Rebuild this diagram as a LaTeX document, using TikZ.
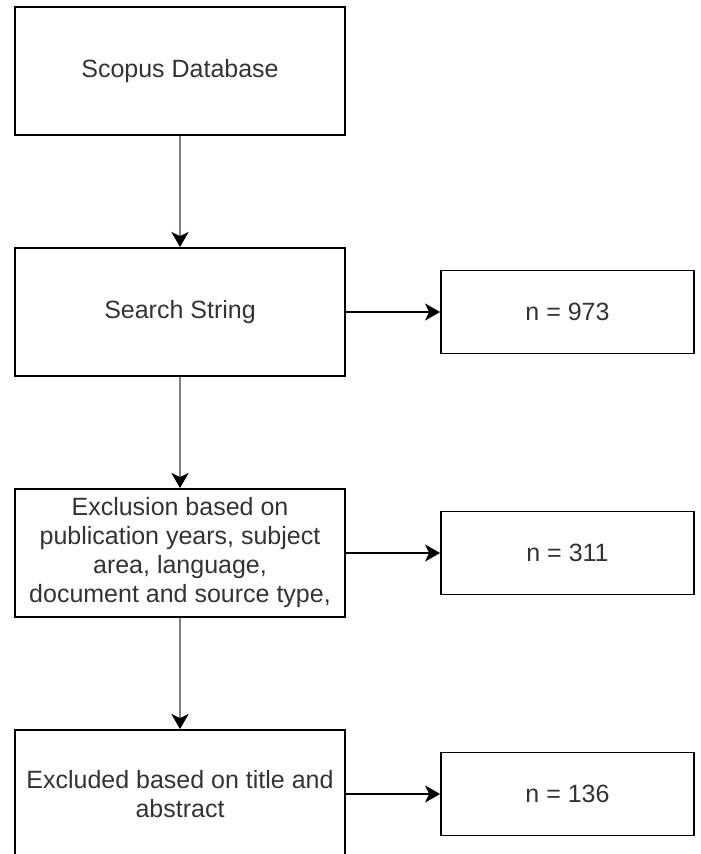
\documentclass[tikz,border=0pt]{standalone}
\usepackage{fontspec}
\setmainfont{Liberation Sans}
\usetikzlibrary{positioning,arrows.meta}
\begin{document}
\begin{tikzpicture}[x=1pt,y=1pt,line width=1.8pt,
    stagebox/.style={draw,rectangle,minimum width=330pt,minimum height=128pt,align=center,text=black!80,font=\fontsize{25}{29}\selectfont},
    countbox/.style={draw,rectangle,minimum width=253pt,minimum height=83pt,text=black!80,font=\fontsize{25}{29}\selectfont},
    flow/.style={draw=black!50,line width=2.6pt,-{Stealth[black,length=15pt,width=17pt,inset=4pt]}},
    side/.style={draw=black,-{Stealth[black,length=15pt,width=17pt,inset=4pt]}}]
        \useasboundingbox (0,0) rectangle (701,-854);
        \node[stagebox] (scopus) at (180,-71) {Scopus Database};
        \node[stagebox,below of=scopus,node distance=241pt] (search) {Search String};
        \node[stagebox,below of=search,node distance=241pt] (years) {Exclusion based on\\publication years, subject\\area, language,\\document and source type,};
        \node[stagebox,below of=years,node distance=241pt] (title) {Excluded based on title and\\abstract};
        \node[countbox,right of=search,node distance=387.5pt] (n1) {n = 973};
        \node[countbox,right of=years,node distance=387.5pt] (n2) {n = 311};
        \node[countbox,right of=title,node distance=387.5pt] (n3) {n = 136};
        \draw[flow] (scopus) to (search);
        \draw[flow] (search) to (years);
        \draw[flow] (years) to (title);
        \draw[side] (search) to (n1);
        \draw[side] (years) to (n2);
        \draw[side] (title) to (n3);

      \end{tikzpicture}
\end{document}
